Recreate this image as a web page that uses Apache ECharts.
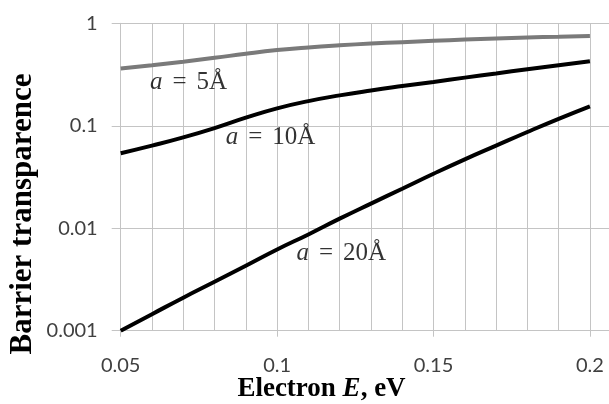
<!DOCTYPE html>
<html>
<head>
<meta charset="utf-8">
<script src="https://cdn.jsdelivr.net/npm/echarts@6/dist/echarts.min.js"></script>
<style>
html,body{margin:0;padding:0;background:#fff;}
#c{width:609px;height:404px;}
</style>
</head>
<body>
<div id="c"></div>
<script>
// Data
var energies = [0.05,0.06,0.07,0.08,0.09,0.10,0.11,0.12,0.13,0.14,0.15,0.16,0.17,0.18,0.19,0.20];
var t5  = [0.362,0.39,0.422,0.46,0.505,0.548,0.582,0.61,0.634,0.655,0.675,0.694,0.712,0.728,0.741,0.75];
var t10 = [0.054,0.064,0.077,0.095,0.120,0.148,0.174,0.198,0.221,0.244,0.268,0.295,0.324,0.356,0.39,0.427];
var t20 = [0.0010,0.00145,0.0021,0.0030,0.0043,0.0062,0.0087,0.0124,0.0174,0.0243,0.034,0.047,0.064,0.087,0.117,0.155];
var xLabelValues = [0.05,0.1,0.15,0.2];
var yTickLabels = ['0.001','0.01','0.1','1'];
var curveNames = ['5', '10', '20'];
var labelPos = [[0.0717,0.266],[0.0979,0.0768],[0.1205,0.00573]];

function pairs(xs, ys){ return xs.map(function(x,i){ return [x, ys[i]]; }); }

var chart = echarts.init(document.getElementById('c'), null, {renderer:'canvas'});
var gridColor = '#c4c4c4';
var lineSeries = [
  {data: pairs(energies, t5), color: '#7a7a7a'},
  {data: pairs(energies, t10), color: '#000000'},
  {data: pairs(energies, t20), color: '#000000'}
].map(function(s, i){
  return {
    type: 'line', name: 'a' + curveNames[i], data: s.data, smooth: 0.5,
    showSymbol: false, symbol: 'none',
    lineStyle: {color: s.color, width: 4}, z: 3
  };
});
var labelSeries = {
  type: 'scatter', symbolSize: 0, silent: true, z: 5,
  data: labelPos.map(function(p, i){ return {value: p, name: curveNames[i]}; }),
  label: {
    show: true, position: 'inside',
    formatter: function(p){ return '{i|a}{eq|=}{n|' + p.name + 'Å}'; },
    rich: {
      i: {fontFamily: 'Liberation Serif', fontStyle: 'italic', fontSize: 25, color: '#000'},
      eq: {fontFamily: 'Liberation Serif', fontSize: 25, color: '#000', padding: [0, 10, 0, 10]},
      n: {fontFamily: 'Liberation Serif', fontSize: 25, color: '#000'}
    }
  }
};

chart.setOption({
  animation: false,
  backgroundColor: '#ffffff',
  grid: {left: 120.7, top: 23.3, right: 0, bottom: 73.3, containLabel: false},
  xAxis: [{
    type: 'value', min: 0.05, max: 0.2061, interval: 0.01,
    axisLine: {show: true, lineStyle: {color: gridColor, width: 1}},
    axisTick: {show: true, length: 6, lineStyle: {color: gridColor}, customValues: xLabelValues},
    axisLabel: {
      customValues: xLabelValues, margin: 25,
      fontFamily: 'Lato', fontSize: 20, color: '#404040',
      formatter: function(v){ return String(Math.round(v*100)/100); }
    },
    splitLine: {show: false}
  }, {
    type: 'value', min: 0.05, max: 0.2061, interval: 0.01, position: 'bottom',
    axisLine: {show: false}, axisTick: {show: false}, axisLabel: {show: false},
    splitLine: {show: true, showMaxLine: false, lineStyle: {color: gridColor, width: 1}}
  }],
  yAxis: {
    type: 'log', logBase: 10, min: 0.001, max: 1,
    axisLine: {show: true, lineStyle: {color: gridColor, width: 1}},
    axisTick: {show: true, length: 9, lineStyle: {color: gridColor}},
    axisLabel: {
      margin: 23, fontFamily: 'Lato', fontSize: 20, color: '#404040',
      formatter: function(v){
        var k = Math.round(Math.log10(v)) + 3;
        return yTickLabels[k] !== undefined ? yTickLabels[k] : '';
      }
    },
    splitLine: {show: true, lineStyle: {color: gridColor, width: 1}}
  },
  graphic: [
    {
      type: 'text', x: 23, y: 214, rotation: Math.PI / 2,
      style: {text: 'Barrier transparence', font: 'bold 31px "Liberation Serif"',
              fill: '#000', align: 'center', verticalAlign: 'middle'}
    },
    {
      type: 'text', x: 321.5, y: 389,
      style: {
        text: '{b|Electron }{e|E}{b|, eV}', align: 'center', verticalAlign: 'middle', fill: '#000',
        rich: {
          b: {font: 'bold 27px "Liberation Serif"', fill: '#000'},
          e: {font: 'italic bold 27px "Liberation Serif"', fill: '#000'}
        }
      }
    }
  ],
  series: lineSeries.concat([labelSeries])
});
</script>
</body>
</html>
